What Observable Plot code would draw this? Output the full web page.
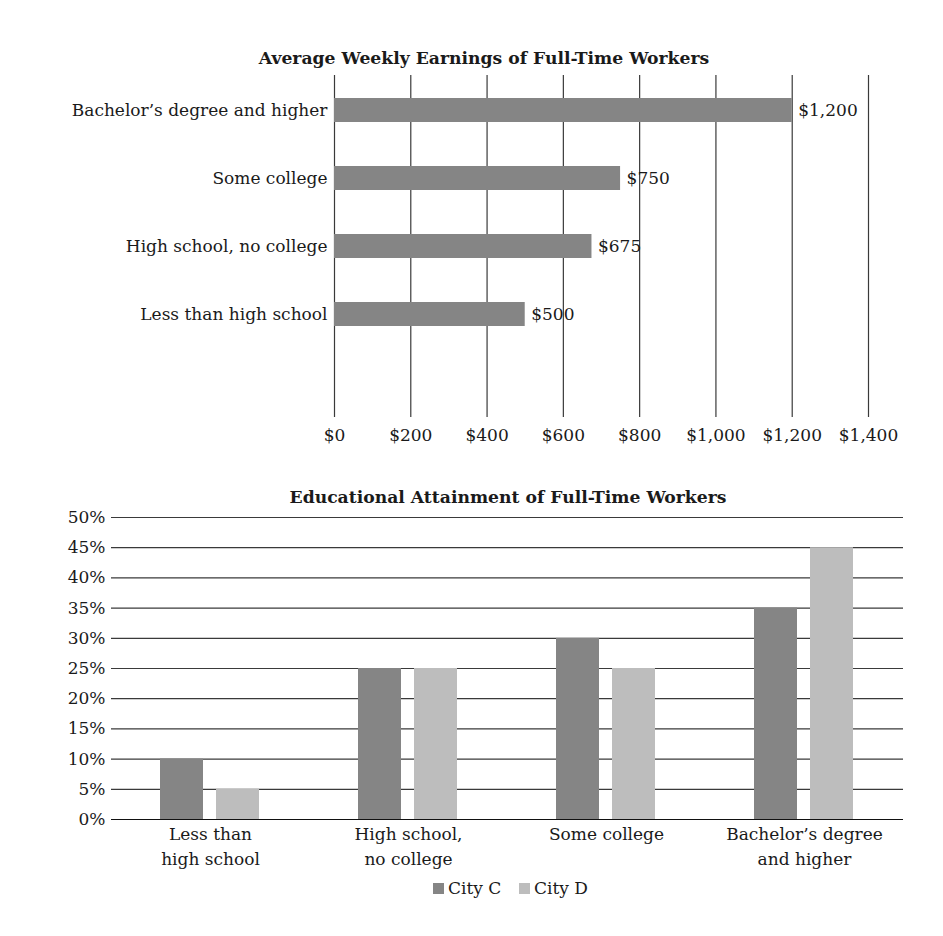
<!DOCTYPE html>
<html>
<head>
<meta charset="utf-8">
<script src="https://cdn.jsdelivr.net/npm/d3@7"></script>
<script src="https://cdn.jsdelivr.net/npm/@observablehq/plot@0.6"></script>
<style>
  body { margin: 0; background: #fff; }
  #wrap { position: relative; width: 943px; height: 936px; font-family: "DejaVu Serif", serif; color: #1a1a1a; }
  .title { position: absolute; transform: translate(-50%, -50%); font-weight: bold; font-size: 17.2px; white-space: nowrap; z-index: 5; }
  .abs { position: absolute; }
  #legend { position: absolute; left: 0; width: 943px; top: 878px; font-size: 17px; z-index: 5; }
  .sw { position: absolute; width: 11px; height: 11px; top: 5px; }
  .lt { position: absolute; top: 0; }
</style>
</head>
<body>
<div id="wrap">
  <div id="topChart" class="abs" style="left:0;top:0"></div>
  <div id="bottomChart" class="abs" style="left:0;top:455px"></div>
  <div class="title" style="left:484px;top:58px">Average Weekly Earnings of Full-Time Workers</div>
  <div class="title" style="left:508px;top:497px">Educational Attainment of Full-Time Workers</div>
  <div id="legend">
    <div class="sw" style="left:433px;background:#858585"></div><div class="lt" style="left:448px">City C</div>
    <div class="sw" style="left:519px;background:#bdbdbd"></div><div class="lt" style="left:534px">City D</div>
  </div>
</div>
<script>
// Top chart data
const earnCategories = ["Bachelor’s degree and higher", "Some college", "High school, no college", "Less than high school"];
const earnValues = [1200, 750, 675, 500];
const earnLabels = ["$1,200", "$750", "$675", "$500"];
const earnTicks = [0, 200, 400, 600, 800, 1000, 1200, 1400];
const earnTickLabels = ["$0", "$200", "$400", "$600", "$800", "$1,000", "$1,200", "$1,400"];

// Bottom chart data
const eduCategories = ["Less than high school", "High school, no college", "Some college", "Bachelor’s degree and higher"];
const eduLabels = ["Less than\nhigh school", "High school,\nno college", "Some college", "Bachelor’s degree\nand higher"];
const cityC = [10, 25, 30, 35];
const cityD = [5, 25, 25, 45];
const pctTicks = [0, 5, 10, 15, 20, 25, 30, 35, 40, 45, 50];

const fontName = "DejaVu Serif";
const dark = "#858585", light = "#bdbdbd", grid = "#3a3a3a", ink = "#1a1a1a";

const earnData = earnCategories.map((c, i) => ({cat: c, value: earnValues[i], label: earnLabels[i]}));

const topPlot = Plot.plot({
  width: 943, height: 455,
  marginLeft: 334, marginRight: 75, marginTop: 75, marginBottom: 38,
  style: {fontFamily: fontName, fontSize: "17px", color: ink, background: "transparent"},
  x: {domain: [0, 1400]},
  y: {domain: [...earnCategories, " "], padding: 0},
  marks: [
    Plot.ruleX(earnTicks, {stroke: grid, strokeWidth: 1.2}),
    Plot.barX(earnData, {x: "value", y: "cat", fill: dark, insetTop: 22, insetBottom: 22}),
    Plot.text(earnData, {x: "value", y: "cat", text: "label", textAnchor: "start", dx: 6, fill: ink, fontSize: 17}),
    Plot.axisX({ticks: earnTicks, tickFormat: d => earnTickLabels[earnTicks.indexOf(d)], tickSize: 0, tickPadding: 11, label: null, fontSize: 17}),
    Plot.axisY({tickSize: 0, tickPadding: 7, label: null, fontSize: 17})
  ]
});
document.getElementById("topChart").appendChild(topPlot);

const eduC = eduCategories.map((c, i) => ({cat: c, value: cityC[i]}));
const eduD = eduCategories.map((c, i) => ({cat: c, value: cityD[i]}));

const bottomPlot = Plot.plot({
  width: 943, height: 420,
  marginLeft: 111, marginRight: 40, marginTop: 62, marginBottom: 56,
  style: {fontFamily: fontName, fontSize: "17px", color: ink, background: "transparent"},
  x: {domain: eduCategories, padding: 0, axis: null},
  y: {domain: [0, 50]},
  marks: [
    Plot.ruleY(pctTicks, {stroke: grid, strokeWidth: 1.2}),
    Plot.barY(eduC, {x: "cat", y: "value", fill: dark, insetLeft: 49, insetRight: 106}),
    Plot.barY(eduD, {x: "cat", y: "value", fill: light, insetLeft: 105, insetRight: 50}),
    Plot.ruleY([0], {stroke: "#111", strokeWidth: 1.2}),
    Plot.axisY({ticks: pctTicks, tickFormat: d => d + "%", tickSize: 0, tickPadding: 6, label: null, fontSize: 17}),
    Plot.text(eduCategories, {x: d => d, frameAnchor: "bottom", dy: 3, lineAnchor: "top", lineHeight: 1.45, text: (d, i) => eduLabels[i], fontSize: 17, fill: ink})
  ]
});
document.getElementById("bottomChart").appendChild(bottomPlot);
</script>
</body>
</html>
